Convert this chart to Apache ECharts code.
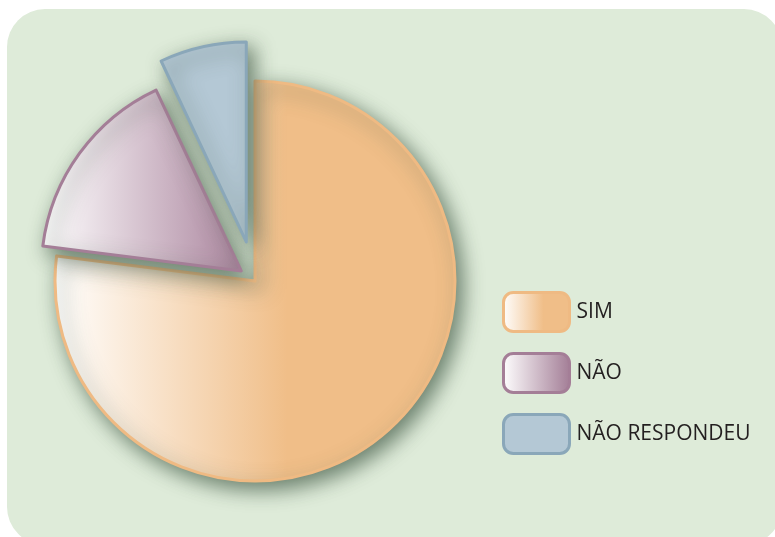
<!DOCTYPE html>
<html>
<head>
<meta charset="utf-8">
<script src="https://cdn.jsdelivr.net/npm/echarts@6/dist/echarts.min.js"></script>
<style>
html,body{margin:0;padding:0;background:#fff;}
#c{width:775px;height:537px;}
</style>
</head>
<body>
<div id="c"></div>
<script>
const categories = ['SIM', 'NÃO', 'NÃO RESPONDEU'];
const values = [77, 16, 7];
const explode = [0, 17, 40];

const fills = [
  {type:'linear',x:0,y:0,x2:1,y2:0,colorStops:[{offset:0,color:'#ffffff'},{offset:0.58,color:'#f0be88'},{offset:1,color:'#f0be88'}]},
  {type:'linear',x:0,y:0,x2:1,y2:0,colorStops:[{offset:0,color:'#ffffff'},{offset:1,color:'#ab859e'}]},
  '#b4c8d5'
];
const borders = ['#efba83', '#a47e97', '#8aa7b9'];

const legendFills = [
  {type:'linear',x:0,y:0,x2:1,y2:0,colorStops:[{offset:0,color:'#ffffff'},{offset:0.6,color:'#f0be88'},{offset:1,color:'#f0be88'}]},
  {type:'linear',x:0,y:0,x2:1,y2:0,colorStops:[{offset:0,color:'#ffffff'},{offset:1,color:'#a27c95'}]},
  '#b4c8d5'
];

const chart = echarts.init(document.getElementById('c'), null, {renderer:'canvas'});

const series = categories.map((name, si) => ({
  type: 'pie',
  center: [255, 281],
  radius: [0, 200],
  startAngle: 90,
  clockwise: true,
  silent: true,
  selectedMode: 'single',
  selectedOffset: explode[si],
  avoidLabelOverlap: false,
  label: {show: false},
  labelLine: {show: false},
  emphasis: {disabled: true},
  animation: false,
  z: 2 + si,
  data: categories.map((n, i) => {
    if (i === si) {
      return {
        name: n, value: values[i], selected: si > 0,
        itemStyle: {
          color: fills[i], borderColor: borders[i], borderWidth: 3,
          shadowColor: 'rgba(55,80,60,0.7)', shadowBlur: 20, shadowOffsetX: 6, shadowOffsetY: 7
        }
      };
    }
    return {name: n, value: values[i], itemStyle: {color: 'rgba(0,0,0,0)', borderWidth: 0, shadowBlur: 0, shadowColor: 'rgba(0,0,0,0)'}};
  })
}));

chart.setOption({
  animation: false,
  graphic: [{
    type: 'rect', left: 7, top: 9, z: -10,
    shape: {width: 775, height: 536, r: 38},
    style: {fill: '#deebd9'}
  }],
  legend: {
    orient: 'vertical',
    left: 497, top: 286,
    itemWidth: 66, itemHeight: 39, itemGap: 19,
    icon: 'roundRect',
    selectedMode: false,
    textStyle: {fontSize: 21, color: '#231f20', fontFamily: 'Open Sans', padding: [0,0,0,2]},
    data: categories.map((n, i) => ({
      name: n,
      itemStyle: {color: legendFills[i], borderColor: borders[i], borderWidth: 3}
    }))
  },
  series: series
});
</script>
</body>
</html>
